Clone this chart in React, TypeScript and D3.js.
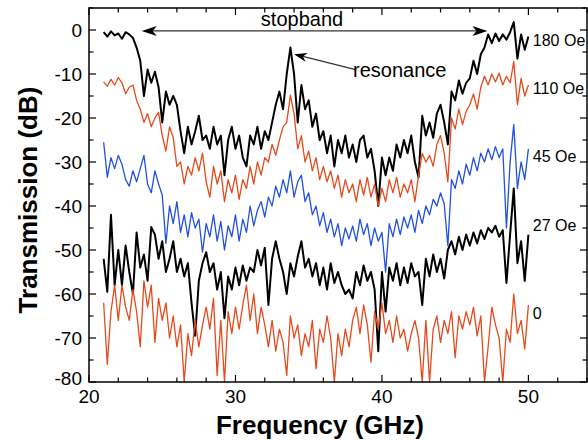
import React from "react";
import * as d3 from "d3";

// Frequency grid (GHz), 0.25 GHz steps from 21 to 50
const FREQ: number[] = d3.range(117).map((i) => 21 + i * 0.25);

const S180: number[] = [
  -0.5, -1.5, -0.3, -1.2, -0.8, -2.0, -0.5, -1.0, -1.8, -4, -7, -15,
  -9, -12, -9.5, -13, -21, -14, -17, -15, -17, -23, -28, -22,
  -26, -23, -19.5, -25, -24, -27, -22, -26, -24, -33, -25, -22,
  -27, -24, -29, -31, -24, -26, -22, -27, -23, -25, -21, -17,
  -14, -18, -10, -4, -10, -21, -12.5, -18, -16, -22, -19, -25,
  -23, -28, -24, -31, -25, -28, -24, -29, -26, -30, -25, -24,
  -29, -27, -32, -40, -29, -33, -29, -32, -26, -29, -25, -28,
  -24, -30, -33.5, -19.5, -24, -21, -24.5, -19, -17, -21, -26, -14,
  -16, -11.5, -14.5, -12, -11, -7, -10, -5.5, -4, -1, -3, -0.8,
  -2.5, -1, -2.2, -0.5, 1.8, -6.5, -1, -4.5, -1.5,
];

const S110: number[] = [
  -11.8, -12.8, -11.2, -12.5, -10.8, -12, -14.5, -13, -12.5, -16, -18, -21,
  -19, -22, -20, -18.7, -24, -27.5, -22, -24.5, -31, -30, -35, -31,
  -33, -29, -32, -28, -34.5, -38, -31, -35, -32, -39, -34, -37,
  -33, -38.5, -34, -36, -31, -35, -30, -33, -29, -30, -26, -28.5,
  -25, -22, -21, -14.8, -19, -27, -24, -30, -27.5, -32, -29, -34,
  -31, -34.5, -32, -36, -33, -38, -34, -37, -35, -39, -34, -37.5,
  -33.5, -38, -35, -40, -36, -39, -34, -37, -33.5, -38, -35, -37,
  -34, -39, -33, -28, -30, -28.5, -31, -26, -24, -28, -34.5, -20,
  -22.5, -18, -21.5, -18.5, -17, -14.5, -18, -13, -10.5, -12.5, -10, -11.8,
  -9.8, -12.5, -10.5, -12, -7.2, -17, -11, -15, -12.5,
];

const S45: number[] = [
  -25.5, -33.5, -29, -31.5, -28.5, -30.5, -34, -35.5, -32, -34.5, -31.5, -28.5,
  -35, -37, -32, -35, -37.5, -48.5, -40, -44, -39, -46, -42, -47,
  -41.5, -45, -43, -50.5, -44, -47, -42, -48, -43.5, -50, -44.5, -47,
  -42, -48, -43, -46, -40, -44.5, -41, -39, -42.5, -38, -40, -35.5,
  -38, -34, -37, -32, -38, -34.5, -33, -39, -37, -42, -40, -44.5,
  -41.5, -46, -43, -47, -44, -49, -45, -47.5, -44.5, -48, -43, -46.5,
  -44, -49, -45, -48, -46, -55, -44, -47, -43, -46.5, -42.5, -45,
  -42, -46, -41, -44, -40, -42, -38.5, -40, -37, -39.5, -49, -34,
  -36, -32, -35, -30.5, -33, -29, -32, -28, -30, -27, -29.5, -26.5,
  -29, -27, -45, -30, -21.5, -36, -30, -34, -27,
];

const S27: number[] = [
  -52, -59.5, -42, -58, -50, -58, -49, -55, -60, -46, -54, -51,
  -57, -44.8, -46.5, -52, -48, -55, -52, -48, -55, -52, -56, -53,
  -62, -69.5, -57, -53, -50.5, -55, -53, -59, -55, -65.5, -56, -59,
  -54, -58, -53.5, -57, -54, -55, -50, -53.5, -49.5, -62.5, -52, -48,
  -52, -55, -60, -53, -56, -51.5, -48, -54, -52, -56, -53, -58,
  -54, -59, -53, -57.5, -55, -58, -60, -59, -61, -55, -58, -53.5,
  -57, -55, -59, -73, -55, -64, -54, -57, -53, -58, -54, -57.5,
  -53, -56, -55, -62.5, -52, -56, -51, -55, -52, -56.5, -50, -48,
  -51, -47, -50, -46.5, -49, -46, -48.5, -45.5, -47.5, -45, -46, -44.5,
  -47, -45.5, -57.5, -46.5, -36, -53, -48, -57, -46.5,
];

const S0: number[] = [
  -62, -76, -64, -58, -66, -58, -63, -66, -59, -64, -72, -57,
  -63, -58, -71, -61, -66, -62, -70, -65, -72, -67, -80, -69,
  -74, -66, -72, -67, -63, -68, -61, -78.5, -66, -80, -64, -69,
  -63, -68, -62.5, -58, -66, -60, -69, -63, -67, -72, -66, -73,
  -68, -71, -78.5, -65, -70, -67, -74, -69, -72, -66, -77, -68,
  -71, -65, -70, -80, -69, -74, -68, -72, -66, -63, -69, -62.5,
  -67, -75.5, -64, -68, -62, -69, -66, -71, -65, -70, -68, -73,
  -69, -66, -70, -80, -66, -80, -68, -65, -71, -66, -69, -64,
  -74.5, -65, -68, -64, -67, -63, -69.5, -65, -80, -72, -63, -67,
  -70, -80, -68, -71, -60, -69, -66, -72.5, -62.5,
];

const SERIES_NAMES = ["180 Oe", "110 Oe", "45 Oe", "27 Oe", "0"];
const SERIES_DATA = [S180, S110, S45, S27, S0];
const SERIES_COLORS = ["#000000", "#e64a1c", "#2250e6", "#000000", "#e64a1c"];
const SERIES_WIDTHS = [2.0, 1.3, 1.3, 2.0, 1.3];
const LABEL_Y = [-2.3, -13.2, -28.8, -44.5, -64.5];

const X_MAJOR = [20, 30, 40, 50];
const Y_MAJOR = [-80, -70, -60, -50, -40, -30, -20, -10, 0];

const W = 588;
const H = 440;
const M = { left: 89, right: 587, top: 8, bottom: 382 };
const FONT = "Arial, 'Liberation Sans', Helvetica, sans-serif";

export default function App() {
  const x = d3.scaleLinear().domain([20, 54]).range([M.left, M.right]);
  const y = d3.scaleLinear().domain([-80, 5]).range([M.bottom, M.top]);
  const line = d3
    .line<number>()
    .x((_, i) => x(FREQ[i]))
    .y((d) => y(d));

  const xMinor = d3.range(20, 54.01, 2);
  const yMinor = d3.range(-80, 5.01, 5);

  // stopband arrow
  const ay = y(-0.2);
  const axL = x(23.6);
  const axR = x(47.2);

  // resonance arrow
  const tip = [x(34.0), y(-5.5)];
  const tail = [x(38.2), y(-9)];
  const dx = tip[0] - tail[0];
  const dy = tip[1] - tail[1];
  const len = Math.hypot(dx, dy);
  const ux = dx / len;
  const uy = dy / len;
  const hl = 13;
  const hw = 4.5;
  const bx = tip[0] - ux * hl;
  const by = tip[1] - uy * hl;
  const nx = tip[0] - ux * hl * 0.7;
  const ny = tip[1] - uy * hl * 0.7;
  const headPath = `M${tip[0]},${tip[1]} L${bx - uy * hw},${by + ux * hw} L${nx},${ny} L${bx + uy * hw},${by - ux * hw} Z`;

  const chevron = (tx: number, dir: number) =>
    `M${tx},${ay} L${tx + dir * 15},${ay - 5} L${tx + dir * 11},${ay} L${tx + dir * 15},${ay + 5} Z`;

  return (
    <svg
      width={W}
      height={H}
      style={{ position: "absolute", left: 0, top: 0, background: "#fff" }}
      fontFamily={FONT}
    >
      <defs>
        <clipPath id="plotclip">
          <rect x={M.left} y={M.top} width={M.right - M.left} height={M.bottom - M.top} />
        </clipPath>
      </defs>
      <rect x={0} y={0} width={W} height={H} fill="#fff" />

      <g clipPath="url(#plotclip)">
        {SERIES_DATA.map((s, k) => (
          <path
            key={k}
            d={line(s) || ""}
            fill="none"
            stroke={SERIES_COLORS[k]}
            strokeWidth={SERIES_WIDTHS[k]}
            strokeLinejoin="round"
          />
        ))}
      </g>

      {/* frame */}
      <rect
        x={M.left}
        y={M.top}
        width={M.right - M.left}
        height={M.bottom - M.top}
        fill="none"
        stroke="#000"
        strokeWidth={1.5}
      />

      {/* x ticks */}
      {xMinor.map((v) => {
        const major = X_MAJOR.includes(v);
        const l = major ? 7 : 4.5;
        return (
          <g key={"xt" + v}>
            <line x1={x(v)} x2={x(v)} y1={M.bottom} y2={M.bottom - l} stroke="#000" strokeWidth={1.2} />
            <line x1={x(v)} x2={x(v)} y1={M.top} y2={M.top + l} stroke="#000" strokeWidth={1.2} />
          </g>
        );
      })}
      {X_MAJOR.map((v) => (
        <text key={"xl" + v} x={x(v)} y={403} textAnchor="middle" fontSize={19} fill="#000">
          {v}
        </text>
      ))}

      {/* y ticks */}
      {yMinor.map((v) => {
        const major = Y_MAJOR.includes(v);
        const l = major ? 7 : 4.5;
        return (
          <g key={"yt" + v}>
            <line x1={M.left} x2={M.left + l} y1={y(v)} y2={y(v)} stroke="#000" strokeWidth={1.2} />
            <line x1={M.right} x2={M.right - l} y1={y(v)} y2={y(v)} stroke="#000" strokeWidth={1.2} />
          </g>
        );
      })}
      {Y_MAJOR.map((v) => (
        <text key={"yl" + v} x={82} y={Math.min(y(v), 378)} dy="0.35em" textAnchor="end" fontSize={19} fill="#000">
          {v}
        </text>
      ))}

      {/* axis titles */}
      <text x={320} y={434} textAnchor="middle" fontSize={26} fontWeight="bold" fill="#000">
        Frequency (GHz)
      </text>
      <text
        transform={`translate(37,200) rotate(-90)`}
        textAnchor="middle"
        fontSize={26}
        fontWeight="bold"
        fill="#000"
      >
        Transmission (dB)
      </text>

      {/* stopband annotation */}
      <line x1={axL + 8} x2={axR - 8} y1={ay} y2={ay} stroke="#333" strokeWidth={1.2} />
      <path d={chevron(axL, 1)} fill="#000" />
      <path d={chevron(axR, -1)} fill="#000" />
      <text x={302} y={26} textAnchor="middle" fontSize={20} fill="#000">
        stopband
      </text>

      {/* resonance annotation */}
      <line x1={tail[0]} y1={tail[1]} x2={nx} y2={ny} stroke="#333" strokeWidth={1.2} />
      <path d={headPath} fill="#000" />
      <text x={353} y={77} fontSize={20} fill="#000">
        resonance
      </text>

      {/* series labels */}
      {SERIES_NAMES.map((n, k) => (
        <text key={n} x={x(50.3)} y={y(LABEL_Y[k])} dy="0.35em" fontSize={16} fill="#000">
          {n}
        </text>
      ))}
    </svg>
  );
}
